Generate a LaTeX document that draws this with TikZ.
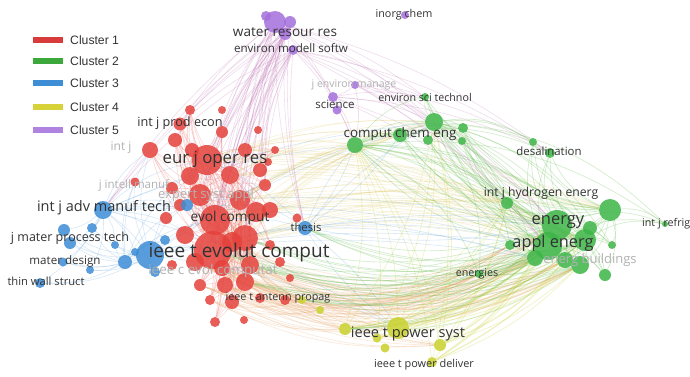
\documentclass[tikz,border=0pt]{standalone}
\usepackage{fontspec}
\setsansfont{Open Sans}
\newfontfamily\legfont{Liberation Sans}
\definecolor{cR}{HTML}{E5413B}
\definecolor{cG}{HTML}{3DB547}
\definecolor{cB}{HTML}{3C8DD6}
\definecolor{cY}{HTML}{C9D12C}
\definecolor{cP}{HTML}{A46FDC}
\definecolor{cO}{HTML}{E8A060}
\definecolor{txt}{HTML}{333333}
\definecolor{lR}{HTML}{D93B3B}
\definecolor{lG}{HTML}{3CA83C}
\definecolor{lB}{HTML}{3E8ED6}
\definecolor{lY}{HTML}{D8D23A}
\definecolor{lP}{HTML}{B183E0}
\pgfdeclarelayer{bg}
\pgfsetlayers{bg,main}
\tikzset{
  vn/.style={circle,inner sep=0pt,minimum size=#1,draw=none},
  rn/.style={vn=#1,fill=cR,fill opacity=0.85},
  gn/.style={vn=#1,fill=cG,fill opacity=0.85},
  bn/.style={vn=#1,fill=cB,fill opacity=0.85},
  yn/.style={vn=#1,fill=cY,fill opacity=0.85},
  pn/.style={vn=#1,fill=cP,fill opacity=0.85},
  lab/.style={font=\sffamily\fontsize{#1}{#1}\selectfont,text=txt,inner sep=0pt},
  faint/.style={font=\sffamily\fontsize{#1}{#1}\selectfont,text=black!30,inner sep=0pt},
  eR/.style={draw=cR,opacity=0.2,line width=0.6pt},
  eG/.style={draw=cG!80!cY,opacity=0.25,line width=0.7pt},
  eB/.style={draw=cB,opacity=0.2,line width=0.6pt},
  eY/.style={draw=cY,opacity=0.25,line width=0.7pt},
  eP/.style={draw=cP!70!cR,opacity=0.22,line width=0.6pt},
  eO/.style={draw=cO,opacity=0.22,line width=0.7pt},
  eRG/.style={draw=cY!60!cO,opacity=0.2,line width=0.6pt},
  legbar/.style={minimum width=30pt,minimum height=6pt,inner sep=0pt,draw=none},
  legtxt/.style={font=\legfont\fontsize{12.2}{12.2}\selectfont,text=black!80,anchor=west,inner sep=0pt},
}
\begin{document}
\begin{tikzpicture}[x=1pt,y=-1pt]
\useasboundingbox (0,0) rectangle (690,376);
% ---------- red nodes
\node[rn=30] (r1) at (207,160) {};
\node[rn=13] (r2) at (180,124) {};
\node[rn=30] (r3) at (215,220) {};
\node[rn=38] (r4) at (213,250) {};
\node[rn=26] (r5) at (245,238) {};
\node[rn=16] (r6) at (150,150) {};
\node[rn=14] (r7) at (175,140) {};
\node[rn=18] (r8) at (230,175) {};
\node[rn=12] (r9) at (265,185) {};
\node[rn=22] (r10) at (200,195) {};
\node[rn=20] (r11) at (240,200) {};
\node[rn=18] (r12) at (185,235) {};
\node[rn=18] (r13) at (250,265) {};
\node[rn=16] (r14) at (225,285) {};
\node[rn=12] (r15) at (200,285) {};
\node[rn=10] (r16) at (270,245) {};
\node[rn=10] (r17) at (285,300) {};
\node[rn=10] (r18) at (260,298) {};
\node[rn=16] (r19) at (270,210) {};
\node[rn=10] (r20) at (190,110) {};
\node[rn=8] (r21) at (222,110) {};
\node[rn=8] (r22) at (290,278) {};
\node[rn=9] (r23) at (297,218) {};
\node[rn=8] (r24) at (275,150) {};
\node[rn=9] (r25) at (135,182) {};
\node[rn=14] (r26) at (245,150) {};
\node[rn=18] (r27) at (195,262) {};
\node[rn=16] (r28) at (222,268) {};
\node[rn=10] (r29) at (172,265) {};
\node[rn=12] (r30) at (180,205) {};
\node[rn=8] (r31) at (258,130) {};
\node[rn=12] (r32) at (222,132) {};
\node[rn=14] (r33) at (192,150) {};
\node[rn=20] (r34) at (232,242) {};
\node[rn=10] (r35) at (210,300) {};
\node[rn=8] (r36) at (268,162) {};
\node[rn=18] (r37) at (245,282) {};
\node[rn=14] (r38) at (232,302) {};
\node[rn=18] (r39) at (190,176) {};
\node[rn=20] (r40) at (256,212) {};
\node[rn=12] (r41) at (172,188) {};
\node[rn=12] (r42) at (166,218) {};
\node[rn=10] (r43) at (280,262) {};
\node[rn=10] (r44) at (215,322) {};
\node[rn=8] (r45) at (244,320) {};
\node[rn=14] (r46) at (260,170) {};
% ---------- blue nodes
\node[bn=18] (b1) at (103,210) {};
\node[bn=28] (b2) at (150,255) {};
\node[bn=14] (b3) at (125,262) {};
\node[bn=10] (b4) at (155,272) {};
\node[bn=12] (b5) at (64,230) {};
\node[bn=12] (b6) at (70,243) {};
\node[bn=10] (b7) at (92,228) {};
\node[bn=9] (b8) at (63,262) {};
\node[bn=10] (b9) at (40,283) {};
\node[bn=8] (b10) at (90,270) {};
\node[bn=14] (b11) at (305,228) {};
\node[bn=12] (b12) at (187,205) {};
\node[bn=10] (b13) at (165,240) {};
\node[bn=8] (b14) at (115,245) {};
\node[bn=8] (b15) at (135,252) {};
% ---------- green nodes
\node[gn=16] (g1) at (355,145) {};
\node[gn=14] (g2) at (400,135) {};
\node[gn=18] (g3) at (434,122) {};
\node[gn=10] (g4) at (428,140) {};
\node[gn=10] (g5) at (463,128) {};
\node[gn=8] (g6) at (462,141) {};
\node[gn=8] (g7) at (425,97) {};
\node[gn=10] (g8) at (550,153) {};
\node[gn=8] (g9) at (533,142) {};
\node[gn=12] (g10) at (507,203) {};
\node[gn=22] (g11) at (610,210) {};
\node[gn=30] (g12) at (557,225) {};
\node[gn=28] (g13) at (548,246) {};
\node[gn=22] (g14) at (585,240) {};
\node[gn=16] (g15) at (535,258) {};
\node[gn=16] (g16) at (565,260) {};
\node[gn=18] (g17) at (580,265) {};
\node[gn=12] (g18) at (605,275) {};
\node[gn=8] (g19) at (612,245) {};
\node[gn=6] (g20) at (665,224) {};
\node[gn=8] (g21) at (479,274) {};
\node[gn=14] (g22) at (590,228) {};
\node[gn=10] (g23) at (510,245) {};
% ---------- yellow nodes
\node[yn=22] (y1) at (398,328) {};
\node[yn=12] (y2) at (345,329) {};
\node[yn=9] (y3) at (377,338) {};
\node[yn=9] (y4) at (385,348) {};
\node[yn=12] (y5) at (440,345) {};
\node[yn=8] (y6) at (320,310) {};
\node[yn=8] (y7) at (302,300) {};
\node[yn=10] (y8) at (432,362) {};
% ---------- purple nodes
\node[pn=22] (p1) at (275,22) {};
\node[pn=12] (p2) at (285,34) {};
\node[pn=10] (p3) at (293,50) {};
\node[pn=8] (p4) at (405,15) {};
\node[pn=8] (p5) at (355,85) {};
\node[pn=10] (p6) at (333,97) {};
\node[pn=9] (p7) at (337,110) {};
\node[pn=12] (p8) at (290,22) {};
\node[pn=10] (p9) at (266,16) {};
% ---------- edges
\begin{pgfonlayer}{bg}
\fill[white] (0,0) rectangle (690,376);
\foreach \a in {r1,r3,r4,r5,r10,r11,r8,r13}
  \foreach \b in {r2,r6,r7,r9,r12,r13,r14,r15,r16,r19,r20,r24,r26,r27,r28,r32,r33,r34,r35,r37,r38,r39,r40,r41,r44}
    \draw[eR] (\a) to[bend left=15] (\b);
\foreach \a in {p1,p2,p3,p8}
  \foreach \b in {r1,r2,r3,r4,r5,r8,r10,r11,r26,r32,r9,b1,b11,r46}
    \draw[eP] (\a) to[bend right=8] (\b);
\foreach \a in {p1,p3,p6,p5}
  \foreach \b in {g1,g3,g12,g13,g8,p6,g7}
    \draw[eP] (\a) to[bend left=10] (\b);
\foreach \a in {r1,r3,r4,r5,r8,r11,r19,r26}
  \foreach \b in {g1,g2,g3,g12,g13,g14,g11,g10}
    \draw[eRG] (\a) to[bend left=12] (\b);
\foreach \a in {r4,r13,r14,r15,r28,r27,r34,r37}
  \foreach \b in {g12,g13,g15,g16,g17,g21,g23}
    \draw[eO] (\a) to[bend right=26] (\b);
\foreach \a in {r4,r3,r13,r14,r28,r35,r38}
  \foreach \b in {y1,y2,y5,y7,y6}
    \draw[eO] (\a) to[bend right=15] (\b);
\foreach \a in {y1,y2,y5,y3,y8}
  \foreach \b in {g12,g13,g14,g15,g16,g17,g10,g1,g3}
    \draw[eY] (\a) to[bend right=12] (\b);
\foreach \a in {g12,g13,g14,g11,g1,g3}
  \foreach \b in {g1,g2,g3,g4,g5,g6,g7,g8,g9,g10,g15,g16,g17,g18,g19,g20,g21,g22,g23}
    \draw[eG] (\a) to[bend left=20] (\b);
\foreach \a in {g12,g13,g14,g15,g17}
  \foreach \b in {r4,r5,r13,r37,b11,y2,y7}
    \draw[eG] (\a) to[bend left=18] (\b);
\foreach \a in {b1,b2,b3}
  \foreach \b in {b5,b6,b7,b8,b9,b10,b13,b14,b4,b15,r1,r3,r4,r6,r25,b12}
    \draw[eB] (\a) to[bend left=15] (\b);
\foreach \a in {b2,b1,b11}
  \foreach \b in {g12,g13,g1,g3,y1,g15}
    \draw[eB] (\a) to[bend left=8] (\b);
\foreach \b in {r1,r3,r4,r5,r11,g1,g2,g12,y1}
  \draw[eB] (b11) to[bend right=10] (\b);
\end{pgfonlayer}
% ---------- labels
\node[lab=13.6] (t1) at (285,32) {water resour res};
\node[lab=11.6] (t2) at (291,48) {environ modell softw};
\node[lab=10.8] (t3) at (404,15) {inorg chem};
\node[faint=10.5] (t4) at (354,85) {j environ manage};
\node[lab=11.5] (t5) at (335,104) {science};
\node[lab=10.7] (t6) at (425,97) {environ sci technol};
\node[lab=13.4] (t7) at (400,134) {comput chem eng};
\node[lab=11.4] (t8) at (549,151) {desalination};
\node[lab=12.2] (t9) at (541,193) {int j hydrogen energ};
\node[lab=16.5] (t10) at (558,222) {energy};
\node[lab=16.3] (t11) at (553,243) {appl energ};
\node[lab=10.7,anchor=west] (t12) at (642,224) {int j refrig};
\node[faint=13] (t13) at (590,260) {energ buildings};
\node[lab=10.7] (t14) at (477,274) {energies};
\node[lab=14.6] (t15) at (408,334) {ieee t power syst};
\node[lab=10.9] (t16) at (424,365) {ieee t power deliver};
\node[lab=10.8] (t17) at (278,298) {ieee t antenn propag};
\node[lab=12.7] (t18) at (180,123) {int j prod econ};
\node[lab=16.8] (t19) at (215,159) {eur j oper res};
\node[faint=12] (t20) at (121,148) {int j};
\node[faint=11.5] (t21) at (134,185) {j intell manuf};
\node[faint=13] (t22) at (206,195) {expert syst appl};
\node[lab=13.7] (t23) at (230,218) {evol comput};
\node[lab=11.3] (t24) at (306,227) {thesis};
\node[lab=19] (t25) at (239,253) {ieee t evolut comput};
\node[faint=13.5] (t26) at (213,271) {ieee c evol computat};
\node[lab=14.5] (t27) at (104,208) {int j adv manuf tech};
\node[lab=12.5] (t28) at (70,238) {j mater process tech};
\node[lab=11.6] (t29) at (65,261) {mater design};
\node[lab=11.2] (t30) at (46,281) {thin wall struct};
% ---------- legend
\node[legbar,fill=lR] (lb1) at (48,40) {};
\node[legbar,fill=lG] (lb2) at (48,61) {};
\node[legbar,fill=lB] (lb3) at (48,83) {};
\node[legbar,fill=lY] (lb4) at (48,107) {};
\node[legbar,fill=lP] (lb5) at (48,130) {};
\node[legtxt] (lt1) at (70,40) {Cluster 1};
\node[legtxt] (lt2) at (70,61) {Cluster 2};
\node[legtxt] (lt3) at (70,83) {Cluster 3};
\node[legtxt] (lt4) at (70,107) {Cluster 4};
\node[legtxt] (lt5) at (70,130) {Cluster 5};
\end{tikzpicture}
\end{document}
